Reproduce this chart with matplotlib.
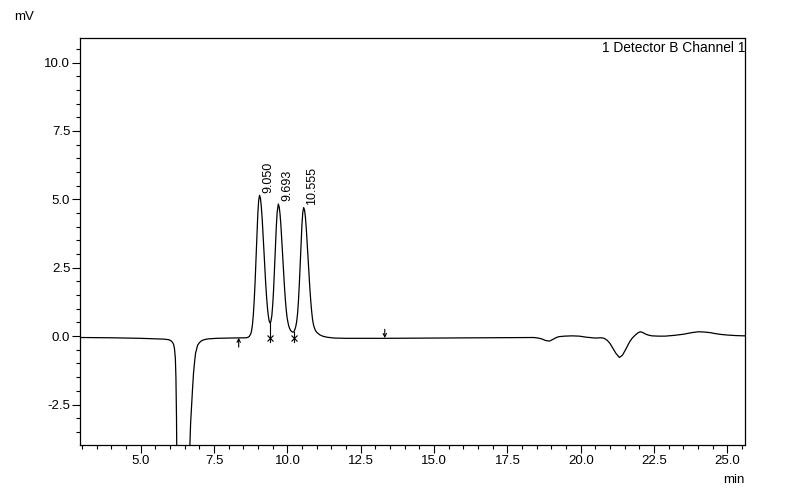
import numpy as np
import matplotlib
matplotlib.use("Agg")
import matplotlib.pyplot as plt
from matplotlib.ticker import MultipleLocator, FormatStrFormatter

plt.rcParams['font.family'] = ['Liberation Sans', 'DejaVu Sans']

# chromatogram trace (min, mV)
time_min = [2.95, 4.0, 5.0, 5.6, 5.8, 5.95, 6.02, 6.08, 6.12, 6.15, 6.18, 6.20, 6.22, 6.25,
            6.35, 6.45, 6.55, 6.63, 6.67, 6.70, 6.74, 6.77, 6.80, 6.84, 6.87, 6.91, 6.94,
            7.0, 7.06, 7.11, 7.2, 7.3, 7.45, 7.59, 8.0, 8.6,
            8.66, 8.70, 8.75, 8.78, 8.81, 8.84, 8.87, 8.90, 8.93, 8.96, 8.99, 9.02, 9.05,
            9.08, 9.11, 9.14, 9.17, 9.20, 9.23, 9.26, 9.29, 9.32, 9.35, 9.38, 9.41, 9.44,
            9.47, 9.50, 9.53, 9.56, 9.59, 9.62, 9.65, 9.69, 9.72, 9.75, 9.78, 9.81, 9.84,
            9.87, 9.90, 9.93, 9.96, 9.99, 10.02, 10.05, 10.08, 10.11, 10.14, 10.17, 10.20,
            10.23, 10.255, 10.285, 10.315, 10.345, 10.375, 10.405, 10.435, 10.465, 10.495,
            10.525, 10.555, 10.585, 10.615, 10.645, 10.675, 10.705, 10.735, 10.765, 10.795,
            10.825, 10.855, 10.885, 10.915, 10.95, 11.0, 11.1, 11.2, 11.35, 11.6, 12.0,
            13.3, 15.0, 17.0, 18.4, 18.55, 18.67, 18.8, 18.94, 19.05, 19.15, 19.25, 19.45,
            19.7, 19.95, 20.2, 20.5, 20.7, 20.8, 20.9, 21.0, 21.1, 21.2, 21.32, 21.42, 21.5,
            21.58, 21.66, 21.75, 21.86, 21.95, 22.03, 22.12, 22.2, 22.3, 22.43, 22.65, 22.88,
            23.2, 23.5, 23.8, 24.01, 24.2, 24.4, 24.6, 24.8, 25.0, 25.3, 25.6]
signal_mv = [-0.05, -0.06, -0.08, -0.1, -0.11, -0.13, -0.16, -0.22, -0.3, -0.45, -0.8, -1.5, -3.0, -7.0,
             -15.0, -16.0, -12.0, -6.0, -4.2, -3.2, -2.4, -1.86, -1.35, -0.9, -0.62, -0.45, -0.33,
             -0.24, -0.18, -0.15, -0.12, -0.1, -0.09, -0.08, -0.07, -0.06,
             -0.04, -0.01, 0.08, 0.2, 0.43, 0.8, 1.33, 2.0, 2.82, 3.67, 4.43, 4.95, 5.15,
             5.05, 4.75, 4.30, 3.74, 3.13, 2.51, 1.93, 1.44, 1.04, 0.74, 0.55, 0.48, 0.55,
             0.75, 1.15, 1.71, 2.42, 3.19, 3.95, 4.52, 4.83, 4.73, 4.46, 4.03, 3.51, 2.93,
             2.35, 1.81, 1.34, 0.96, 0.68, 0.5, 0.36, 0.27, 0.21, 0.17, 0.15, 0.15,
             0.18, 0.24, 0.35, 0.52, 0.8, 1.25, 1.86, 2.59, 3.37, 4.05,
             4.53, 4.7, 4.61, 4.34, 3.92, 3.41, 2.85, 2.29, 1.76, 1.31,
             0.93, 0.63, 0.44, 0.32, 0.22, 0.14, 0.05, 0.0, -0.04, -0.07, -0.08,
             -0.08, -0.07, -0.06, -0.05, -0.07, -0.1, -0.16, -0.18, -0.12, -0.06, -0.02, 0.0,
             0.01, 0.0, -0.04, -0.07, -0.06, -0.08, -0.15, -0.27, -0.45, -0.63, -0.78, -0.7, -0.55,
             -0.39, -0.22, -0.08, 0.04, 0.12, 0.16, 0.13, 0.08, 0.04, 0.01, 0.0, 0.0,
             0.03, 0.07, 0.13, 0.16, 0.15, 0.13, 0.09, 0.06, 0.04, 0.02, 0.01]

peak_times = [9.050, 9.693, 10.555]
peak_heights = [5.15, 4.83, 4.7]
peak_labels = ["9.050", "9.693", "10.555"]
start_mark = 8.34
split_marks = [9.42, 10.21]
split_levels = [0.52, 0.15]
end_mark = 13.32

fig = plt.figure(figsize=(7.87, 5.01), dpi=100)
ax = fig.add_axes([80 / 787, 56 / 501, 665 / 787, 407 / 501])

ax.plot(time_min, signal_mv, color='black', lw=0.9)

ax.set_xlim(2.93, 25.6)
ax.set_ylim(-3.98, 10.9)
ax.xaxis.set_major_locator(MultipleLocator(2.5))
ax.xaxis.set_minor_locator(MultipleLocator(0.5))
ax.yaxis.set_major_locator(MultipleLocator(2.5))
ax.yaxis.set_minor_locator(MultipleLocator(0.5))
ax.xaxis.set_major_formatter(FormatStrFormatter('%.1f'))
ax.yaxis.set_major_formatter(FormatStrFormatter('%.1f'))
ax.tick_params(which='major', direction='out', length=6, width=0.8, pad=1, labelsize=9.5)
ax.tick_params(which='minor', direction='out', length=3, width=0.8)
for s in ax.spines.values():
    s.set_linewidth(0.9)

# peak retention time labels
for t, h, lab in zip(peak_times, peak_heights, peak_labels):
    ax.text(t + 0.3, h + 0.1, lab, rotation=90, ha='center', va='bottom', fontsize=9)

# integration markers
ax.annotate('', xy=(start_mark, -0.06), xytext=(start_mark, -0.4),
            arrowprops=dict(arrowstyle='->', lw=0.8, color='black', shrinkA=0, shrinkB=0,
                            mutation_scale=6))
for t, lv in zip(split_marks, split_levels):
    ax.plot([t, t], [-0.2, lv], color='black', lw=0.8)
    ax.plot(t, -0.06, marker='x', color='black', ms=4, mew=0.8)
ax.annotate('', xy=(end_mark, -0.07), xytext=(end_mark, 0.25),
            arrowprops=dict(arrowstyle='->', lw=0.8, color='black', shrinkA=0, shrinkB=0,
                            mutation_scale=6))

ax.text(1.0, 0.992, "1 Detector B Channel 1", transform=ax.transAxes,
        ha='right', va='top', fontsize=9.9)
fig.text(14 / 787, 1 - 20 / 501, "mV", fontsize=9.5, ha='left', va='baseline')
fig.text(745 / 787, 1 - 483 / 501, "min", fontsize=9.5, ha='right', va='baseline')

fig.savefig("out.png", dpi=100)
